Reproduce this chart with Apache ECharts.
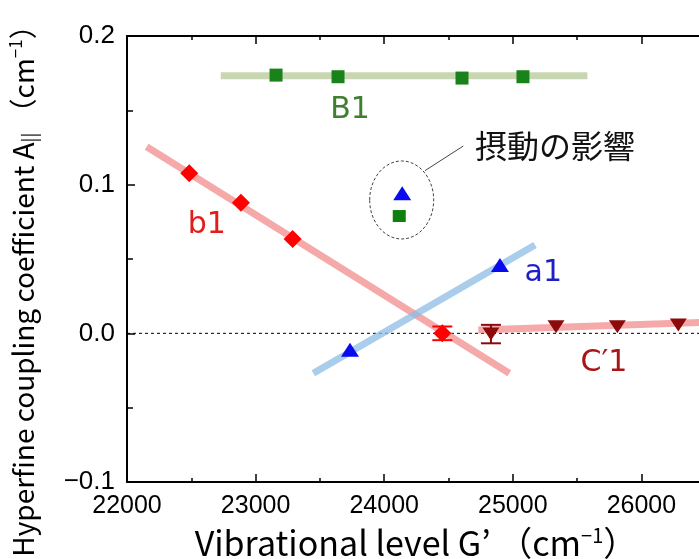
<!DOCTYPE html>
<html><head><meta charset="utf-8">
<script src="https://cdn.jsdelivr.net/npm/echarts@6/dist/echarts.min.js"></script>
<style>html,body{margin:0;padding:0;background:#fff}#c{width:699px;height:559px}</style>
</head><body><div id="c"></div>
<script>
// ---- data ----
const xTicks = [22000, 23000, 24000, 25000, 26000, 27000];
const yTicks = [-0.1, 0.0, 0.1, 0.2];
const yTickLabels = ['\u22120.1', '0.0', '0.1', '0.2'];

const b1X = [22484, 22886, 23288, 24452];
const b1Y = [0.1076, 0.0878, 0.0634, 0.0];
const a1X = [23734, 24900];
const a1Y = [-0.011, 0.046];
const B1X = [23159, 23641, 24605, 25079];
const B1Y = [0.1737, 0.1726, 0.1717, 0.1726];
const C1X = [24830, 25336, 25813, 26287];
const C1Y = [-0.0005, 0.0045, 0.0045, 0.0056];
const pertA1 = [24140, 0.0942];
const pertB1 = [24117, 0.0789];

const b1FitX = [22153, 24973], b1FitY = [0.1255, -0.0269];
const a1FitX = [23449, 25173], a1FitY = [-0.0269, 0.0594];
const B1FitX = [22729, 25580], B1FitY = [0.1733, 0.1733];
const C1FitX = [24732, 26600], C1FitY = [0.0022, 0.0077];

const errX = [24452, 24830];
const errY = [0.0, -0.0005];
const errE = [0.0046, 0.0062];

const labelNames = ['B1', 'b1', 'a1', 'C\u20321'];
const labelX = [23734, 22620, 25237, 25709];
const labelY = [0.1499, 0.0729, 0.0404, -0.0202];
const labelColors = ['#3f7f30', '#e51a1a', '#1e1ec8', '#aa1414'];

const ellipseCenter = [24136, 0.0897];
const leaderFrom = [24317, 0.1094];
const leaderTo = [24615, 0.126];
const noteAnchor = [24706, 0.126];
const noteText = '摂動の影響';

// ---- helpers ----
const zip = (xs, ys) => xs.map((x, i) => [x, ys[i]]);
const lineSeries = (xs, ys, color) => ({
  type: 'line', data: zip(xs, ys), symbol: 'none', silent: true,
  lineStyle: { color: color, width: 7, cap: 'butt' }, z: 2
});
const scatter = (data, symbol, size, color, rotate) => ({
  type: 'scatter', data: data, symbol: symbol, symbolSize: size,
  symbolRotate: rotate || 0, itemStyle: { color: color, opacity: 1 }, z: 5
});

const chart = echarts.init(document.getElementById('c'), null, { renderer: 'canvas' });
const axisCommon = {
  type: 'value', min: 22000, max: 27000, interval: 1000,
  axisLine: { show: true, onZero: false, lineStyle: { color: '#000', width: 2 } },
  axisTick: { show: true, inside: true, length: 8, lineStyle: { color: '#000', width: 1.5 } },
  minorTick: { show: true, splitNumber: 2, length: 4, lineStyle: { color: '#000', width: 1.5 } },
  splitLine: { show: false }
};

chart.setOption({
  animation: false,
  backgroundColor: '#fff',
  grid: { left: 127, top: 36, right: -71, bottom: 77, containLabel: false, outerBoundsMode: 'none' },
  xAxis: [
    Object.assign({}, axisCommon, {
      position: 'bottom',
      axisLabel: { show: true, margin: 12, fontSize: 25, color: '#000', fontFamily: 'Liberation Sans',
        formatter: v => xTicks.includes(v) ? String(v) : '' }
    }),
    Object.assign({}, axisCommon, { position: 'top', axisLabel: { show: false } })
  ],
  yAxis: {
    type: 'value', min: -0.1, max: 0.2, interval: 0.1,
    axisLine: { show: true, onZero: false, lineStyle: { color: '#000', width: 2 } },
    axisTick: { show: true, inside: true, length: 8, lineStyle: { color: '#000', width: 1.5 } },
    minorTick: { show: true, splitNumber: 2, length: 6, lineStyle: { color: '#000', width: 1.5 } },
    splitLine: { show: false },
    axisLabel: { margin: 12, fontSize: 26, color: '#000', fontFamily: 'Liberation Sans',
      formatter: v => { const i = yTicks.findIndex(t => Math.abs(t - v) < 1e-9); return i >= 0 ? yTickLabels[i] : ''; } }
  },
  series: [
    { type: 'line', data: [[22000, 0], [27000, 0]], symbol: 'none', silent: true,
      lineStyle: { color: '#000', width: 1, type: [3, 3] }, z: 1 },
    lineSeries(B1FitX, B1FitY, 'rgba(190,208,165,0.85)'),
    lineSeries(b1FitX, b1FitY, 'rgba(242,140,140,0.75)'),
    lineSeries(C1FitX, C1FitY, 'rgba(242,140,140,0.75)'),
    lineSeries(a1FitX, a1FitY, 'rgba(140,188,228,0.75)'),
    {
      type: 'custom', z: 4, silent: true,
      data: errX.map((x, i) => [x, errY[i], errE[i], i]),
      renderItem: (params, api) => {
        const x = api.value(0), y = api.value(1), e = api.value(2), idx = api.value(3);
        const top = api.coord([x, y + e]), bot = api.coord([x, y - e]);
        const col = idx === 0 ? '#ff0000' : '#8b0a0a';
        const hw = 10;
        const st = { stroke: col, lineWidth: 2 };
        return { type: 'group', children: [
          { type: 'line', shape: { x1: top[0], y1: top[1], x2: bot[0], y2: bot[1] }, style: st },
          { type: 'line', shape: { x1: top[0] - hw, y1: top[1], x2: top[0] + hw, y2: top[1] }, style: st },
          { type: 'line', shape: { x1: bot[0] - hw, y1: bot[1], x2: bot[0] + hw, y2: bot[1] }, style: st }
        ]};
      }
    },
    scatter(zip(B1X, B1Y), 'rect', [13, 13], '#1a821a'),
    scatter(zip(b1X, b1Y), 'diamond', [18, 18], '#ff0000'),
    scatter(zip(a1X, a1Y), 'triangle', [18, 14], '#0a0aee'),
    scatter(zip(C1X, C1Y), 'triangle', [17, 13], '#8b0a0a', 180),
    scatter([pertA1], 'triangle', [18, 14], '#0a0aee'),
    scatter([pertB1], 'rect', [13, 12], '#0f7f0f'),
    {
      type: 'custom', z: 6, silent: true,
      data: labelX.map((x, i) => [x, labelY[i], i]),
      renderItem: (params, api) => {
        const i = api.value(2);
        const p = api.coord([api.value(0), api.value(1)]);
        return { type: 'text', x: p[0], y: p[1],
          style: { text: labelNames[i], fill: labelColors[i], fontSize: 30, fontFamily: 'DejaVu Sans',
            align: 'center', verticalAlign: 'middle' } };
      }
    },
    {
      type: 'custom', z: 6, silent: true,
      data: [[0]],
      renderItem: (params, api) => {
        const c = api.coord(ellipseCenter);
        const a = api.coord(leaderFrom), b = api.coord(leaderTo), t = api.coord(noteAnchor);
        return { type: 'group', children: [
          { type: 'ellipse', shape: { cx: c[0], cy: c[1], rx: 32, ry: 39 },
            style: { fill: 'none', stroke: '#444', lineWidth: 1, lineDash: [3, 2] } },
          { type: 'line', shape: { x1: a[0], y1: a[1], x2: b[0], y2: b[1] },
            style: { stroke: '#444', lineWidth: 1 } },
          { type: 'text', x: t[0], y: t[1],
            style: { text: noteText, fill: '#111', fontSize: 32, fontFamily: 'Noto Sans CJK JP',
              align: 'left', verticalAlign: 'middle' } }
        ]};
      }
    }
  ],
  graphic: [
    { type: 'text', x: 416, y: 543, z: 10,
      style: { text: 'Vibrational level G\u2019 （cm{sup|\u22121}）', fill: '#000', fontSize: 34,
        fontFamily: 'Noto Sans CJK JP', align: 'center', verticalAlign: 'middle',
        rich: { sup: { fontSize: 20, verticalAlign: 'top', padding: [0, 0, 16, 0], fontFamily: 'Noto Sans CJK JP' } } } },
    { type: 'text', x: 23, y: 284, rotation: Math.PI / 2, z: 10,
      style: { text: 'Hyperfine coupling coefficient A{sub|||} （cm{sup|\u22121}）', fill: '#000', fontSize: 28,
        fontFamily: 'Noto Sans CJK JP', align: 'center', verticalAlign: 'middle',
        rich: { sup: { fontSize: 17, padding: [0, 0, 14, 0], fontFamily: 'Noto Sans CJK JP' },
                sub: { fontSize: 18, padding: [12, 0, 0, 0], fontFamily: 'Noto Sans CJK JP' } } } }
  ]
});
</script></body></html>
